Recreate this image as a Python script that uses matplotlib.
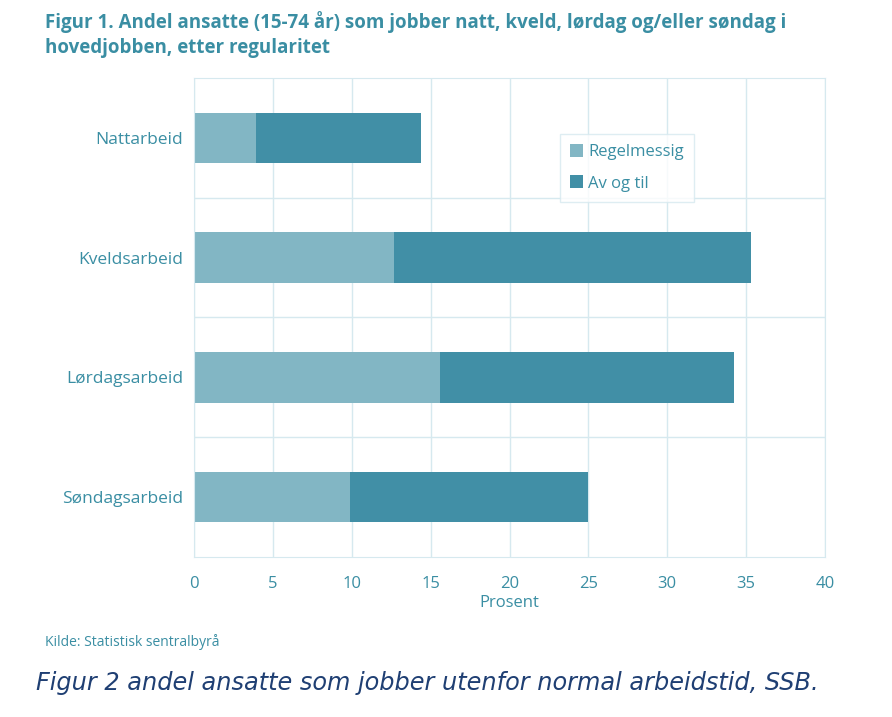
import matplotlib.pyplot as plt
import numpy as np

categories = ["Nattarbeid", "Kveldsarbeid", "Lørdagsarbeid", "Søndagsarbeid"]
regelmessig = [3.9, 12.7, 15.6, 9.9]
av_og_til = [10.5, 22.6, 18.6, 15.1]
xticks = [0, 5, 10, 15, 20, 25, 30, 35, 40]

teal = "#3a8ea3"
light = "#82b6c4"
dark = "#418fa6"
grid = "#d6e9ef"

plt.rcParams['font.family'] = ['Open Sans', 'DejaVu Sans']

fig = plt.figure(figsize=(8.92, 7.17), dpi=100)
ax = fig.add_axes([0.2175, 0.2232, 0.7074, 0.668])

y = np.arange(len(categories))
ax.barh(y, regelmessig, height=0.42, color=light, label="Regelmessig")
ax.barh(y, av_og_til, left=regelmessig, height=0.42, color=dark, label="Av og til")

ax.set_xlim(0, 40)
ax.set_ylim(len(categories) - 0.5, -0.5)
ax.set_xticks(xticks)
ax.set_xticklabels([str(t) for t in xticks])
ax.set_yticks(y)
ax.set_yticklabels(categories)
for b in [0.5, 1.5, 2.5]:
    ax.axhline(b, color=grid, lw=1, zorder=0)
ax.set_axisbelow(True)
ax.xaxis.grid(True, color=grid, lw=1)
for s in ax.spines.values():
    s.set_color(grid)
ax.tick_params(length=0, colors=teal, labelsize=12)
ax.tick_params(axis='x', pad=14)
ax.tick_params(axis='y', pad=8, labelsize=12.5)
ax.set_xlabel("Prosent", color=teal, fontsize=12, labelpad=2)

leg = ax.legend(loc="upper left", bbox_to_anchor=(0.567, 0.9), frameon=True,
                fancybox=False, handlelength=0.8, handleheight=0.8,
                handletextpad=0.3, labelspacing=0.9, fontsize=12,
                borderpad=0.6)
leg.get_frame().set_edgecolor(grid)
for t in leg.get_texts():
    t.set_color(teal)

fig.text(0.05, 0.985, "Figur 1. Andel ansatte (15-74 år) som jobber natt, kveld, lørdag og/eller søndag i\nhovedjobben, etter regularitet",
         color=teal, fontsize=13.5, fontweight='bold', va='top', ha='left', linespacing=1.35)
fig.text(0.05, 0.105, "Kilde: Statistisk sentralbyrå", color=teal, fontsize=10, va='center')
fig.text(0.04, 0.047, "Figur 2 andel ansatte som jobber utenfor normal arbeidstid, SSB.",
         color="#1f3f73", fontsize=17.3, style='italic', family='DejaVu Sans', va='center')

fig.savefig("out.png", dpi=100)
